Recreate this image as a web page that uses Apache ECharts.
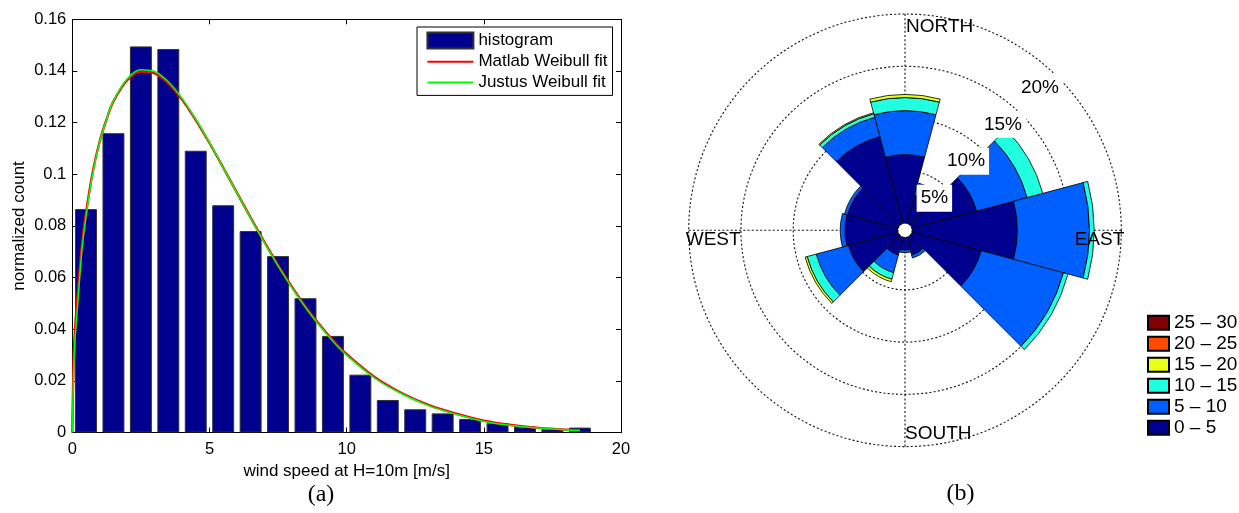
<!DOCTYPE html>
<html>
<head>
<meta charset="utf-8">
<script src="https://cdn.jsdelivr.net/npm/echarts@6/dist/echarts.min.js"></script>
<style>
  html, body { margin: 0; padding: 0; background: #fff; }
  #chart { width: 1239px; height: 513px; }
</style>
</head>
<body>
<div id="chart"></div>
<script>
// ---------- (a) wind speed histogram at H = 10 m ----------
const binCenters = [0.5, 1.5, 2.5, 3.5, 4.5, 5.5, 6.5, 7.5, 8.5, 9.5,
                    10.5, 11.5, 12.5, 13.5, 14.5, 15.5, 16.5, 17.5, 18.5];
const binValues = [0.0865, 0.1159, 0.1495, 0.1485, 0.1091, 0.0880, 0.0780, 0.0683, 0.0520, 0.0374,
                   0.0224, 0.0126, 0.0090, 0.0074, 0.0052, 0.0036, 0.0023, 0.0014, 0.0019];

// fitted Weibull densities sampled along the speed axis
const fitX = [0, 0.05, 0.1, 0.2, 0.35, 0.5, 0.75, 1, 1.25, 1.5, 2, 2.5, 3, 3.5, 4, 4.5, 5, 5.5, 6,
              6.5, 7, 7.5, 8, 8.5, 9, 9.5, 10, 11, 12, 13, 14, 15, 16, 17, 18, 18.5];
const matlabFit = [0, 0.029, 0.040, 0.054, 0.0725, 0.0850, 0.1012, 0.1128, 0.1213, 0.1282, 0.1364, 0.1398,
                   0.1391, 0.1352, 0.1289, 0.1210, 0.1121, 0.1026, 0.0929, 0.0832, 0.0738, 0.0648,
                   0.0565, 0.0488, 0.0419, 0.0357, 0.0303, 0.0216, 0.0153, 0.0106, 0.0073, 0.0046,
                   0.0029, 0.0018, 0.0011, 0.0009];
const justusFit = [0, 0.025, 0.036, 0.050, 0.0705, 0.0836, 0.1005, 0.1125, 0.1213, 0.1285, 0.1370, 0.1405,
                   0.1398, 0.1358, 0.1294, 0.1214, 0.1123, 0.1026, 0.0928, 0.0830, 0.0735, 0.0645,
                   0.0561, 0.0484, 0.0415, 0.0353, 0.0299, 0.0212, 0.0150, 0.0103, 0.0070, 0.0043,
                   0.0027, 0.0017, 0.0010, 0.0008];

// ---------- (b) wind rose: frequency [%] per 30° sector, by speed class ----------
const directions = ['0°', '30°', '60°', '90°', '120°', '150°', '180°', '210°', '240°', '270°', '300°', '330°'];
const speedClasses = ['0 – 5', '5 – 10', '10 – 15', '15 – 20', '20 – 25', '25 – 30'];
const freq0to5   = [6.55, 2.8, 6.4, 10.05, 6.85, 1.75, 1.2, 1.75, 4.9, 5.05, 5.0, 8.6];
const freq5to10  = [4.2, 1.2, 5.0, 6.9, 8.15, 0.3, 0.25, 1.75, 3.2, 0.45, 0.3, 1.9];
const freq10to15 = [1.25, 0, 1.55, 0.45, 0.45, 0, 0, 0.65, 0.9, 0, 0, 0.35];
const freq15to20 = [0.3, 0, 0, 0, 0, 0, 0, 0.25, 0.2, 0, 0, 0.1];
const freq20to25 = [0, 0, 0, 0, 0, 0, 0, 0, 0, 0, 0, 0];
const freq25to30 = [0, 0, 0, 0, 0, 0, 0, 0, 0, 0, 0, 0];
const classFreqs = [freq0to5, freq5to10, freq10to15, freq15to20, freq20to25, freq25to30];
const ringValues = [5, 10, 15, 20];
const compassNames = ['NORTH', 'EAST', 'SOUTH', 'WEST'];

// jet-like colours for the speed classes
const classColors = ['#00008F', '#0060FF', '#20FFDF', '#E8FF17', '#FF4A00', '#800000'];

const FONT = 'Liberation Sans, Arial, Helvetica, sans-serif';
const roseCenter = [905, 230.3];
const roseRadius = [7.3, 216.3];
const gridDash = { color: '#111', width: 1.1, type: [2, 2.2] };

const chart = echarts.init(document.getElementById('chart'), null, { renderer: 'canvas' });

const boxAxis = (pos, isX, showLabel) => ({
  type: 'value',
  position: pos,
  min: 0,
  max: isX ? 20 : 0.16,
  interval: isX ? 5 : 0.02,
  axisLine: { show: true, onZero: false, lineStyle: { color: '#000', width: 1 } },
  axisTick: { show: true, inside: true, length: 5, lineStyle: { color: '#000', width: 1 } },
  axisLabel: {
    show: showLabel, color: '#000', fontFamily: FONT, fontSize: 16.5,
    margin: isX ? 8 : 6, showMinLabel: true, showMaxLabel: true
  },
  splitLine: { show: false }
});

const xBottom = Object.assign(boxAxis('bottom', true, true), {
  name: 'wind speed at H=10m [m/s]', nameLocation: 'middle', nameGap: 26,
  nameTextStyle: { color: '#000', fontFamily: FONT, fontSize: 17 }
});
const yLeft = Object.assign(boxAxis('left', false, true), {
  name: 'normalized count', nameLocation: 'middle', nameGap: 44,
  nameTextStyle: { color: '#000', fontFamily: FONT, fontSize: 17 }
});

const roseSeries = speedClasses.map((name, k) => ({
  name: name,
  type: 'bar',
  coordinateSystem: 'polar',
  polarIndex: 0,
  stack: 'rose',
  barCategoryGap: '0%',
  data: classFreqs[k].map(v => (v > 0 ? v : null)),
  itemStyle: { color: classColors[k], borderColor: '#000', borderWidth: 0.8 },
  emphasis: { disabled: true },
  z: 3
}));

// compass words sit on the outer ring
const compassAngles = [0, 90, 180, 270];
const compassLayout = [
  { align: 'left', verticalAlign: 'top', offset: [1, 3] },
  { align: 'right', verticalAlign: 'top', offset: [3, 0] },
  { align: 'left', verticalAlign: 'bottom', offset: [0, -3] },
  { align: 'left', verticalAlign: 'top', offset: [-3, 0] }
];
const ringMax = ringValues[ringValues.length - 1];

const option = {
  animation: false,
  backgroundColor: '#fff',
  grid: { left: 72.3, top: 19.3, width: 548.7, height: 413.2, show: false, outerBoundsMode: 'none', containLabel: false },
  xAxis: [xBottom, boxAxis('top', true, false)],
  yAxis: [yLeft, boxAxis('right', false, false)],
  polar: [
    { center: roseCenter, radius: roseRadius },
    { center: roseCenter, radius: roseRadius }
  ],
  angleAxis: [
    {
      polarIndex: 0, type: 'category', data: directions, startAngle: 105, clockwise: true,
      boundaryGap: true,
      axisLine: { show: false }, axisTick: { show: false }, axisLabel: { show: false }, splitLine: { show: false }
    },
    {
      polarIndex: 1, type: 'value', min: 0, max: 360, interval: 90, startAngle: 90, clockwise: true,
      axisLine: { show: false }, axisTick: { show: false }, axisLabel: { show: false },
      splitLine: { show: true, lineStyle: gridDash }
    }
  ],
  radiusAxis: [
    {
      polarIndex: 0, type: 'value', min: 0, max: ringMax,
      axisLine: { show: false }, axisTick: { show: false }, axisLabel: { show: false }, splitLine: { show: false }
    },
    {
      polarIndex: 1, type: 'value', min: 0, max: ringMax, interval: 5,
      axisLine: { show: false }, axisTick: { show: false }, axisLabel: { show: false },
      splitLine: { show: true, lineStyle: gridDash }
    }
  ],
  legend: [
    {
      data: [
        { name: 'histogram', icon: 'rect' },
        { name: 'Matlab Weibull fit', itemStyle: { opacity: 0 } },
        { name: 'Justus Weibull fit', itemStyle: { opacity: 0 } }
      ],
      orient: 'vertical', left: 417, top: 27,
      padding: [4.5, 5, 4.5, 9.4], itemGap: 3.7, itemWidth: 46, itemHeight: 16,
      backgroundColor: '#fff', borderColor: '#000', borderWidth: 1,
      textStyle: { color: '#000', fontFamily: FONT, fontSize: 17 },
      selectedMode: false
    },
    {
      data: speedClasses.slice().reverse().map(n => ({ name: n, icon: 'rect' })),
      orient: 'vertical', left: 1147, top: 313.2,
      padding: 0, itemGap: 2, itemWidth: 21, itemHeight: 14,
      textStyle: { color: '#000', fontFamily: FONT, fontSize: 19 },
      selectedMode: false
    }
  ],
  graphic: [
    { type: 'text', x: 321, y: 495, style: { text: '(a)', font: '24px "Liberation Serif", "DejaVu Serif", serif', fill: '#000', textAlign: 'center', textVerticalAlign: 'middle' } },
    { type: 'text', x: 960.5, y: 494, style: { text: '(b)', font: '24px "Liberation Serif", "DejaVu Serif", serif', fill: '#000', textAlign: 'center', textVerticalAlign: 'middle' } }
  ],
  series: [
    {
      name: 'histogram', type: 'bar', xAxisIndex: 0, yAxisIndex: 0,
      data: binCenters.map((c, i) => [c, binValues[i]]),
      barWidth: '80%',
      itemStyle: { color: '#00008F', borderColor: '#333', borderWidth: 1 },
      emphasis: { disabled: true }, z: 2
    },
    {
      name: 'Matlab Weibull fit', type: 'line', xAxisIndex: 0, yAxisIndex: 0,
      data: fitX.map((x, i) => [x, matlabFit[i]]),
      smooth: 0.35, symbol: 'none',
      lineStyle: { color: '#FF0000', width: 2.4 }, itemStyle: { color: '#FF0000' },
      emphasis: { disabled: true }, z: 4
    },
    {
      name: 'Justus Weibull fit', type: 'line', xAxisIndex: 0, yAxisIndex: 0,
      data: fitX.map((x, i) => [x, justusFit[i]]),
      smooth: 0.35, symbol: 'none',
      lineStyle: { color: '#00FF00', width: 1.5 }, itemStyle: { color: '#00FF00' },
      emphasis: { disabled: true }, z: 5
    },
    ...roseSeries,
    {
      // percentage labels of the rings
      name: 'ring labels', type: 'scatter', coordinateSystem: 'polar', polarIndex: 1,
      data: ringValues.map(v => [v, 45]),
      symbolSize: 1, itemStyle: { color: 'rgba(0,0,0,0)', opacity: 1 }, silent: true, z: 10,
      label: {
        show: true, position: 'inside', formatter: p => p.value[0] + '%',
        align: 'right', verticalAlign: 'top', offset: [5, -3.5],
        color: '#000', fontFamily: FONT, fontSize: 19,
        backgroundColor: '#fff', padding: [4, 4, 4, 4]
      }
    },
    {
      // compass names on the outer ring
      name: 'compass', type: 'scatter', coordinateSystem: 'polar', polarIndex: 1,
      data: compassNames.map((n, i) => ({
        name: n, value: [ringMax, compassAngles[i]],
        label: compassLayout[i]
      })),
      symbolSize: 1, itemStyle: { color: 'rgba(0,0,0,0)', opacity: 1 }, silent: true, z: 10,
      label: {
        show: true, position: 'inside', formatter: p => p.name,
        color: '#000', fontFamily: FONT, fontSize: 19
      }
    }
  ]
};

chart.setOption(option);
</script>
</body>
</html>
